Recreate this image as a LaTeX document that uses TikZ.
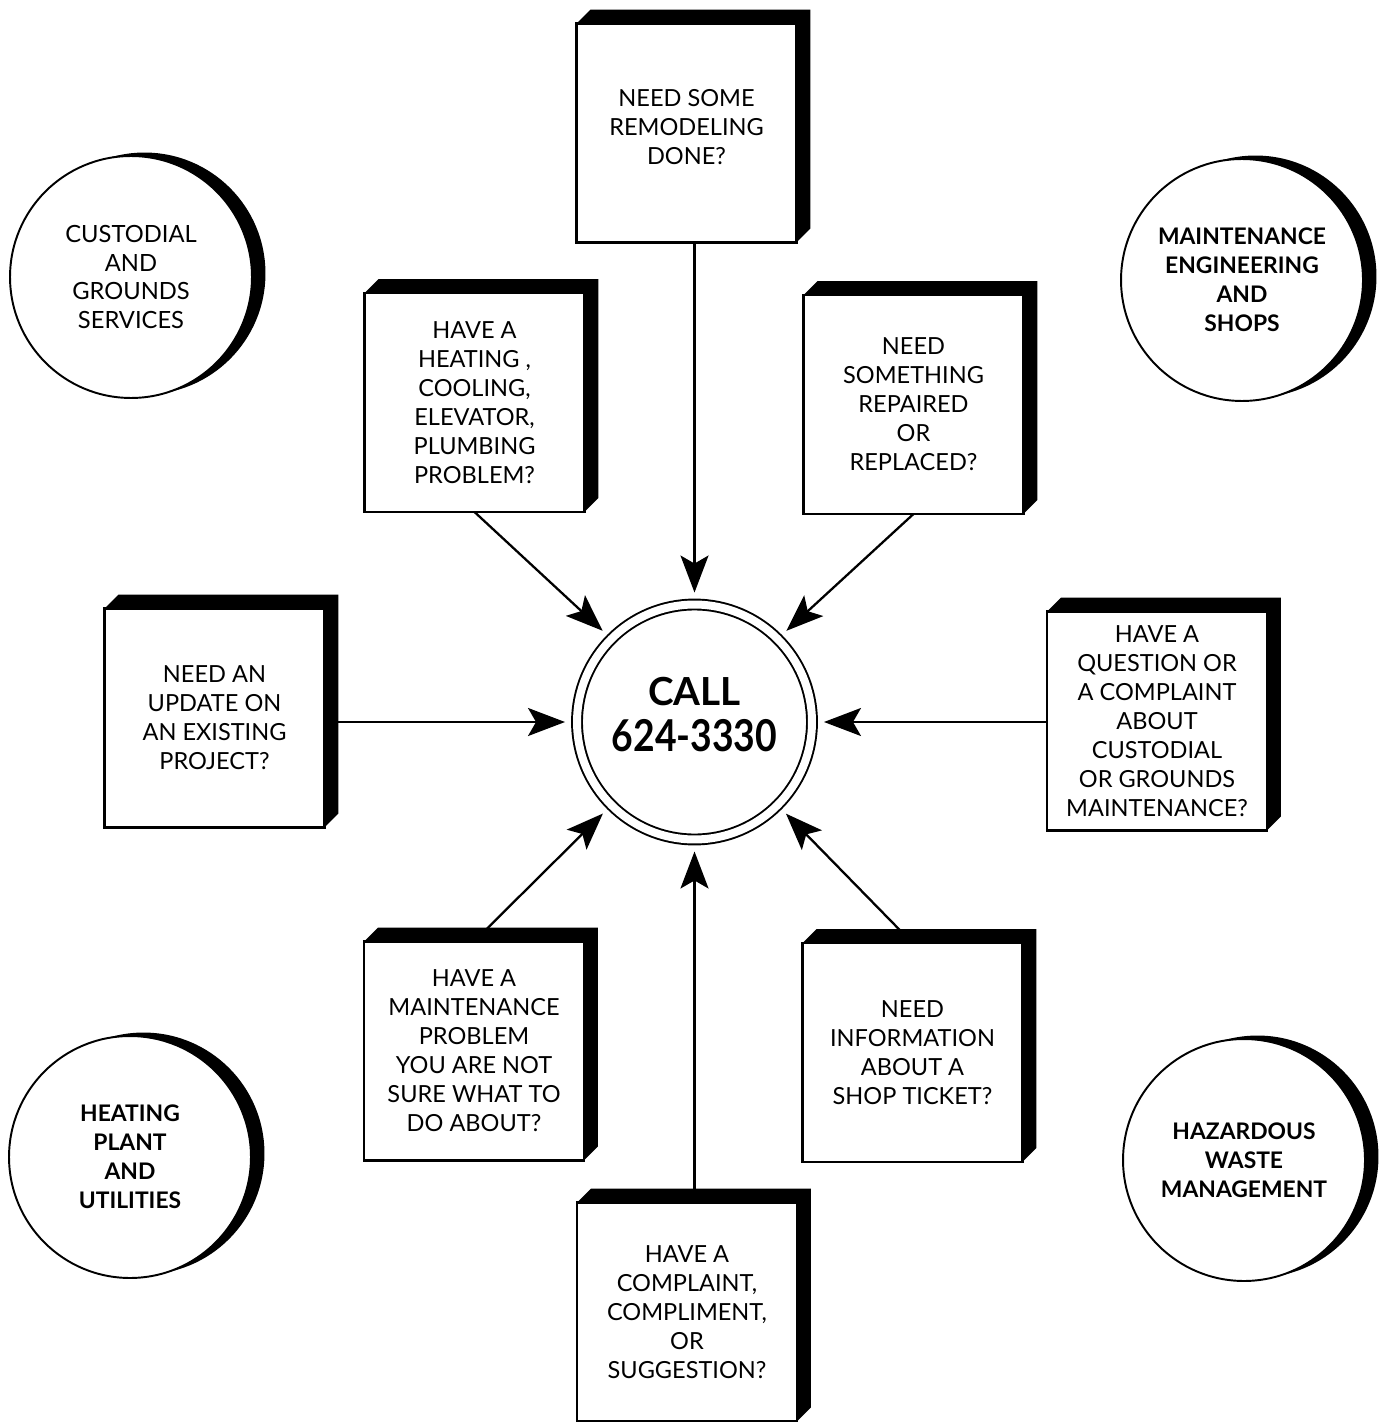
\documentclass[tikz,border=0pt]{standalone}
\usepackage{fontspec}
\setmainfont{Lato}
\usepackage{graphicx}
\colorlet{colorShade}{black}
\colorlet{colorFace}{white}
\usetikzlibrary{arrows.meta, shadows}
\pgfdeclarelayer{background}
\pgfsetlayers{background,main}
\tikzset{
  qbox/.style={draw, fill=colorFace, line width=1.4pt, outer sep=0pt, minimum width=4.4cm, minimum height=4.38cm, align=center, font=\fontsize{13.4}{16.5}\selectfont},
  dept/.style={circle, draw, fill=colorFace, line width=1.1pt, minimum size=4.84cm, align=center, font=\fontsize{13}{16.5}\selectfont\bfseries, drop shadow={shadow xshift=0.27cm, shadow yshift=0.07cm, opacity=1, fill=colorShade}},
  hub/.style={circle, draw, double, double distance=0.16cm, line width=1.1pt, fill=colorFace, minimum size=4.7cm, outer sep=0pt},
  flow/.style={->, line width=1.3pt, shorten >=0.24cm}
}
% black top and right side of a box
\newcommand{\boxside}[1]{\fill[colorShade] (#1.north west) -- ++(0.28cm,0.28cm) -- ([shift={(0.28cm,0.28cm)}]#1.north east) -- ([shift={(0.28cm,0.28cm)}]#1.south east) -- (#1.south east) -- (#1.north east) -- cycle;}

\begin{document}
\begin{tikzpicture}[x=0.02cm, y=-0.02cm, >={Stealth[length=0.74cm, width=0.56cm, inset=0.16cm]}, line width=1.1pt]
\useasboundingbox (0,0) rectangle (1386,1422);
\node[hub, label={[align=center, font=\bfseries, yshift=0.15cm]center:{\fontsize{22}{28}\selectfont CALL}\\[7pt]{\fontsize{25}{28}\selectfont\scalebox{0.85}[1]{624-3330}}}] (q0) at (694.5,722) {};
\node[qbox] (q1) at (686.5,133) {NEED SOME\\REMODELING\\DONE?\\[-9.5pt]};
\node[qbox] (q2) at (474.5,402.5) {HAVE A\\HEATING ,\\COOLING,\\ELEVATOR,\\PLUMBING\\PROBLEM?};
\node[qbox] (q3) at (913.5,404.5) {NEED\\SOMETHING\\REPAIRED\\OR\\REPLACED?};
\node[qbox] (q4) at (214.5,718) {NEED AN\\UPDATE ON\\AN EXISTING\\PROJECT?};
\node[qbox] (q5) at (1157,721) {HAVE A\\QUESTION OR\\A COMPLAINT\\ABOUT\\CUSTODIAL\\OR GROUNDS\\MAINTENANCE?};
\node[qbox] (q6) at (474,1051) {HAVE A\\MAINTENANCE\\PROBLEM\\YOU ARE NOT\\SURE WHAT TO\\DO ABOUT?};
\node[qbox] (q7) at (912.5,1052.5) {NEED\\INFORMATION\\ABOUT A\\SHOP TICKET?};
\node[qbox] (q8) at (687,1312) {HAVE A\\COMPLAINT,\\COMPLIMENT,\\OR\\SUGGESTION?};
\boxside{q1} \boxside{q2} \boxside{q3} \boxside{q4}
\boxside{q5} \boxside{q6} \boxside{q7} \boxside{q8}
\node[dept, font=\fontsize{13.5}{16.5}\selectfont] (d1) at (131,277) {CUSTODIAL\\AND\\GROUNDS\\SERVICES};
\node[dept] (d2) at (1242,280) {MAINTENANCE\\ENGINEERING\\AND\\SHOPS};
\node[dept] (d3) at (130,1157) {HEATING\\PLANT\\AND\\UTILITIES};
\node[dept] (d4) at (1244,1160) {HAZARDOUS\\WASTE\\MANAGEMENT};
\begin{pgfonlayer}{background}
\draw [flow] (q1.south -| q0) -- (q0.north);
\draw [flow] (q2.south) -- (q0.135);
\draw [flow] (q3.south) -- (q0.45);
\draw [flow] (q4.east |- q0) -- (q0.west);
\draw [flow] (q5.west |- q0) -- (q0.east);
\draw [flow] (q6.north) -- (q0.-135);
\draw [flow] (q7.north) -- (q0.-45);
\draw [flow] (q8.north -| q0) -- (q0.south);
\end{pgfonlayer}
\end{tikzpicture}
\end{document}
